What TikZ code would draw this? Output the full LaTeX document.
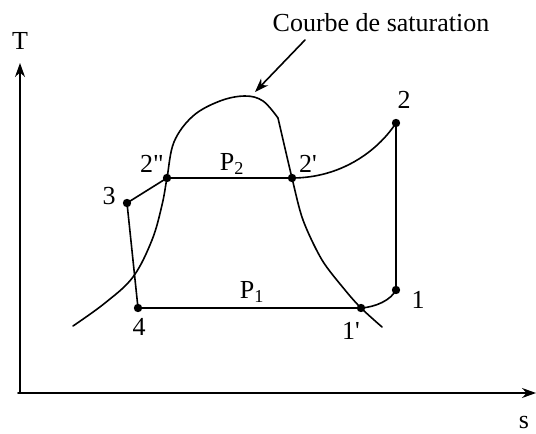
\documentclass[tikz,border=0pt]{standalone}
\usepackage{fontspec}
\setmainfont{Liberation Serif}[Ligatures=TeXOff]
\usetikzlibrary{arrows.meta}
\tikzset{
  every picture/.style={line join=round, line cap=round, >=Stealth},
  axis/.style={line width=1.6pt, -{Stealth[length=14pt,width=10pt]}},
  curve/.style={line width=1.6pt},
  dot/.style={fill=black},
  lbl/.style={font=\fontsize{26}{30}\selectfont, inner sep=0pt},
}

\begin{document}
\begin{tikzpicture}[x=1pt,y=-1pt]
\useasboundingbox (0,0) rectangle (536,434);
% axes
\coordinate (O) at (20,393);
\coordinate (Tend) at (20,63);
\coordinate (send) at (536,393);
\draw[axis] (O) -- (Tend);
\draw[axis] (18,393) -- (send);
\node[lbl] (T) at (20,41) {T};
\node[lbl] (s) at (524,422) {s};
% cycle points
\coordinate (p2pp) at (167,178);
\coordinate (p2p) at (292,178);
\coordinate (p2) at (396,123);
\coordinate (p3) at (127,203);
\coordinate (p4) at (138,308);
\coordinate (p1p) at (361,308);
\coordinate (p1) at (396,290);
% saturation curve
\draw[curve] plot[smooth,tension=0.6] coordinates {(73,326) (105,303) (133,277) (152,240) (162,205) (p2pp) (174,142) (193,116) (220,101) (245,96) (263,101) (278,118)};
\draw[curve] plot[smooth,tension=0.5] coordinates {(278,118) (p2p) (303,220) (322,260) (345,290) (p1p) (382,327)};
% cycle
\draw[curve] (p3) -- (p2pp) -- (p2p);
\draw[curve] (p3) -- (p4) -- (p1p);
\draw[curve] (p2p) .. controls (340,178) and (377,152) .. (p2);
\draw[curve] (p1p) .. controls (376,307) and (391,300) .. (p1);
\draw[curve] (p1) -- (p2);
\foreach \p in {p2pp,p2p,p2,p3,p4,p1p,p1}
  \fill[dot] (\p) circle (4.2pt);
% labels
\node[lbl] (l2pp) at (152,164) {2"};
\node[lbl] (lP2) at (232,164) {P\textsubscript{2}};
\node[lbl] (l2p) at (308,164) {2'};
\node[lbl] (l3) at (109,196) {3};
\node[lbl] (l4) at (139,327) {4};
\node[lbl] (lP1) at (252,292) {P\textsubscript{1}};
\node[lbl] (l1p) at (351,331) {1'};
\node[lbl] (l1) at (418,300) {1};
\node[lbl] (l2) at (404,100) {2};
% saturation label
\node[lbl, anchor=base] (sat) at (381,31) {Courbe de saturation};
\coordinate (arrtip) at (255,92);
\draw[curve,-{Stealth[length=14pt,width=10pt]}] (305,40) -- (arrtip);
\end{tikzpicture}
\end{document}
